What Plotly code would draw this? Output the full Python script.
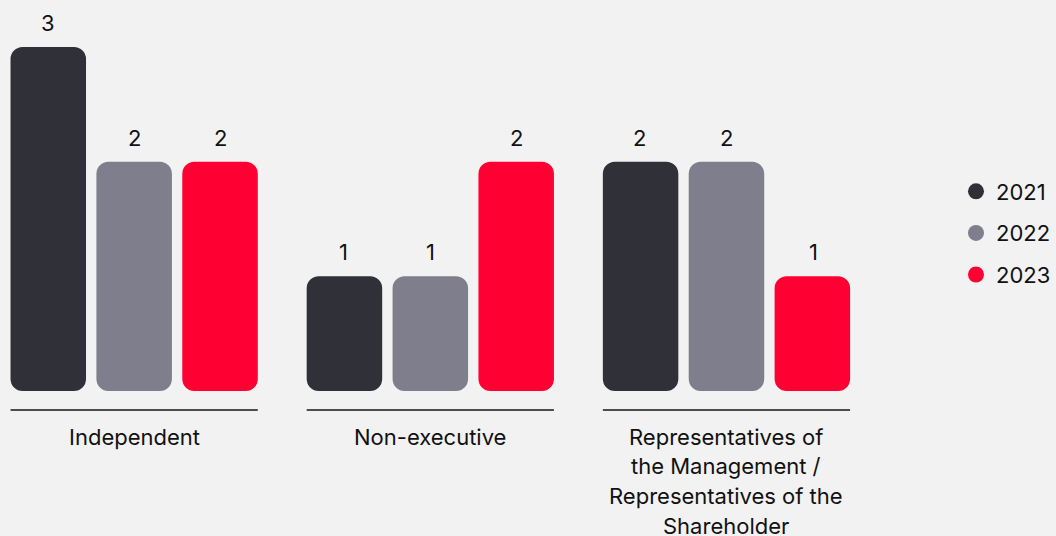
import plotly.graph_objects as go

categories = ["Independent", "Non-executive",
              "Representatives of<br>the Management /<br>Representatives of the<br>Shareholder"]
years = ["2021", "2022", "2023"]
values_2021 = [3, 1, 2]
values_2022 = [2, 1, 2]
values_2023 = [2, 2, 1]
series = [values_2021, values_2022, values_2023]
colors = ["#303038", "#7f7e8c", "#ff0033"]

FONT = "Inter, 'Noto Sans', sans-serif"
BG = "#f2f2f2"
FS = 22

xs = list(range(len(categories)))
fig = go.Figure()

for j, (yr, vals, col) in enumerate(zip(years, series, colors)):
    # explicit base -> plotly rounds both ends of the bar
    fig.add_trace(go.Bar(
        x=xs, y=vals, base=[0] * len(vals),
        marker=dict(color=col, cornerradius=12, line=dict(width=0)),
        name=yr, showlegend=False,
        hovertemplate="%{y}<extra>" + yr + "</extra>"))
    # legend entry
    fig.add_trace(go.Scatter(
        x=[None], y=[None], mode="markers", name=yr,
        marker=dict(color=col, size=19, symbol="circle"),
        legendgroup=yr, showlegend=True))

# value labels
slot_px = 86.6
for j, vals in enumerate(series):
    for i, v in enumerate(vals):
        fig.add_annotation(x=i, y=v, text=str(v), showarrow=False,
                           xshift=(j - 1) * slot_px, yshift=9, yanchor="bottom",
                           font=dict(family=FONT, size=FS, color="#111111"))

# group separator lines and category labels
half = 0.4174
for i, cat in enumerate(categories):
    fig.add_shape(type="line", xref="x", yref="y", x0=i - half, x1=i + half,
                  y0=-0.1657, y1=-0.1657, line=dict(color="#161616", width=1.5))
    for k, line in enumerate(cat.split("<br>")):
        fig.add_annotation(x=i, y=-0.40, text=line, showarrow=False,
                           yanchor="middle", yshift=-k * 29.6,
                           font=dict(family=FONT, size=FS, color="#111111"))

fig.update_layout(
    width=1056, height=536,
    margin=dict(l=0, r=0, t=0, b=0),
    paper_bgcolor=BG, plot_bgcolor=BG,
    barmode="group", bargap=0.130, bargroupgap=0.121,
    showlegend=True,
    legend=dict(x=0.9134, y=0.5653, xanchor="left", yanchor="middle",
                font=dict(family=FONT, size=FS, color="#111111"),
                bgcolor="rgba(0,0,0,0)", tracegroupgap=10,
                itemclick=False, itemdoubleclick=False),
    xaxis=dict(range=[-0.4530, 3.0823], visible=False, fixedrange=True),
    yaxis=dict(range=[-1.2645, 3.4098], visible=False, fixedrange=True),
    font=dict(family=FONT),
)

fig.write_html("out.html",
               config={"displayModeBar": False},
               post_script="document.body.style.margin='0';"
                           "document.body.style.overflow='hidden';")
